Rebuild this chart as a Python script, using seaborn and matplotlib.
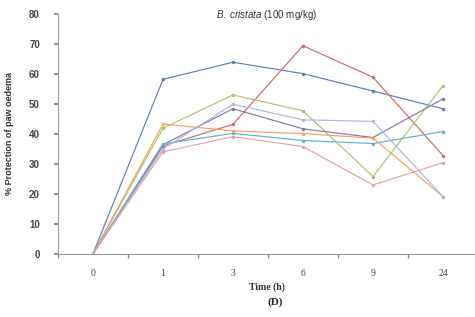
import numpy as np
import pandas as pd
import matplotlib
matplotlib.use("Agg")
import matplotlib.pyplot as plt
import seaborn as sns

# ── Data ──────────────────────────────────────────────────────────────────────
time_labels = ["0", "1", "3", "6", "9", "24"]
s1 = [0, 58.2, 63.9, 60.1, 54.3, 48.4]
s2 = [0, 36.0, 43.2, 69.4, 58.9, 32.8]
s3 = [0, 41.9, 53.0, 47.7, 25.8, 56.1]
s4 = [0, 36.4, 48.4, 41.7, 38.8, 51.7]
s5 = [0, 36.7, 40.2, 37.8, 36.8, 40.8]
s6 = [0, 43.3, 41.0, 40.1, 38.6, 19.1]
s7 = [0, 35.0, 49.9, 44.7, 44.2, 19.1]
s8 = [0, 34.0, 39.1, 35.8, 23.0, 30.4]
series = [s1, s2, s3, s4, s5, s6, s7, s8]
names = [f"S{i + 1}" for i in range(len(series))]
colors = ["#5B7FC0", "#CF6A68", "#A9C46E", "#8A74AE",
          "#5DB3C8", "#F4A25E", "#A9B8E0", "#E3A3A6"]

rows = []
for name, vals in zip(names, series):
    for i, v in enumerate(vals):
        rows.append({"pos": i, "value": v, "series": name})
df = pd.DataFrame(rows)

# ── Plot ──────────────────────────────────────────────────────────────────────
sns.set_theme(style="white")
plt.rcParams["font.family"] = ["Liberation Sans", "DejaVu Sans"]
plt.rcParams["mathtext.fontset"] = "custom"
plt.rcParams["mathtext.it"] = "Liberation Sans:italic"
plt.rcParams["mathtext.rm"] = "Liberation Sans"

fig = plt.figure(figsize=(4.75, 3.17), dpi=100)
ax = fig.add_axes([0.122, 0.199, 0.878, 0.757])

sns.lineplot(data=df, x="pos", y="value", hue="series", palette=colors,
             marker="o", markersize=2.5, markeredgewidth=0, linewidth=0.85,
             legend=False, ax=ax)

ax.set_xlim(-0.5, 5.457)
ax.set_ylim(0, 80)
ax.set_yticks(range(0, 81, 10))
ax.set_xticks(range(len(time_labels)))
ax.set_xticklabels(time_labels, family=["Liberation Serif"])
ax.set_xticks(np.arange(-0.5, 5.5, 1), minor=True)
ax.tick_params(axis="x", which="major", length=0, labelsize=7,
               colors="#444444", pad=11)
ax.tick_params(axis="x", which="minor", length=3, color="#888888",
               direction="out", bottom=True)
ax.tick_params(axis="y", length=3, color="#888888", direction="out", left=True,
               labelsize=7, labelcolor="#444444", pad=10)
for lab in ax.get_yticklabels():
    lab.set_fontweight("bold")

for side in ["top", "right"]:
    ax.spines[side].set_visible(False)
for side in ["left", "bottom"]:
    ax.spines[side].set_color("#999999")
    ax.spines[side].set_linewidth(0.8)

ax.set_xlabel("Time (h)", family=["Liberation Serif"], fontsize=7,
              fontweight="bold", color="#333333", labelpad=3)
ax.set_ylabel("% Protection of paw oedema", fontsize=6.5,
              fontweight="bold", color="#333333", labelpad=11)
ax.set_title(r"$\it{B.\ cristata}$ (100 mg/kg)", fontsize=7,
             color="#333333", pad=-3)
fig.text(0.58, 0.047, "(D)", family=["Liberation Serif"], fontsize=8,
         fontweight="bold", ha="center", va="center", color="#222222")

fig.savefig("out.png", dpi=100)
